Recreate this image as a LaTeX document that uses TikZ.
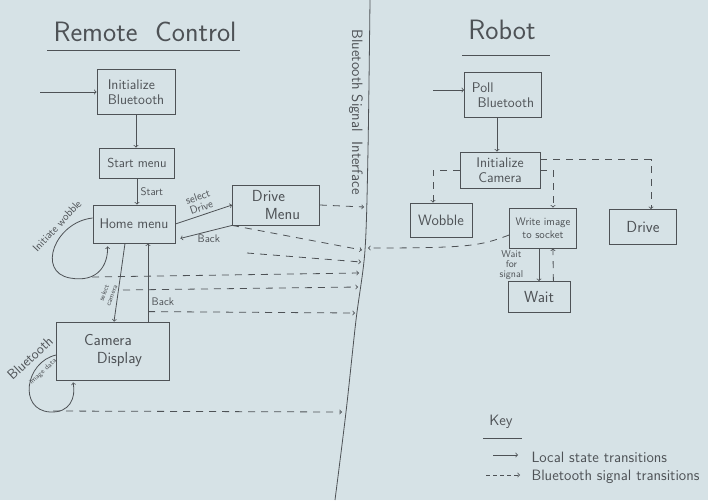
\documentclass[tikz,border=0pt]{standalone}
\usepackage{tikz}
\usetikzlibrary{calc,positioning}
\definecolor{paper}{RGB}{214,226,230}
\definecolor{ink}{RGB}{78,82,86}

\begin{document}
\begin{tikzpicture}[x=1pt,y=-1pt,
  every node/.style={text=ink,font=\sffamily\fontsize{11}{12}\selectfont},
  state/.style={draw=ink,line width=0.8pt,inner sep=2pt,align=center,font=\sffamily\fontsize{14}{15}\selectfont},
  local/.style={draw=ink,line width=0.8pt,->},
  signal/.style={draw=ink,line width=0.8pt,->,dash pattern=on 7pt off 6pt},
  lbl/.style={font=\sffamily\fontsize{11}{11}\selectfont}]
  %paper
  \fill[paper] (0,0) rectangle (708,500);
  \useasboundingbox (0,0) rectangle (708,500);

  %titles
  \node[font=\sffamily\fontsize{28}{30}\selectfont] (rctitle) at (145,32) {Remote\ \ Control};
  \draw[ink,line width=0.8pt] (47,50) -- (240,50);
  \node[font=\sffamily\fontsize{28}{30}\selectfont] (rbtitle) at (502,30) {Robot};
  \draw[ink,line width=0.8pt] (462,55) -- (550,55);

  %interface
  \draw[ink,line width=0.8pt] plot[smooth] coordinates {(370,0) (368,150) (365,250) (356,320) (346,412) (335,500)};
  \node[rotate=-90,font=\sffamily\fontsize{15}{17}\selectfont] (bsi) at (356,112) {Bluetooth Signal\ \ Interface};

  %remote control states
  \node[state,align=left,minimum width=78,minimum height=45] (initbt) at (136,92) {Initialize\\Bluetooth};
  \node[state,minimum width=75,minimum height=30,font=\sffamily\fontsize{13}{14}\selectfont] (startm) at (137,163) {Start menu};
  \node[state,minimum width=82,minimum height=38] (homem) at (134,224) {Home menu};
  \node[state,align=left,minimum width=87,minimum height=40,font=\sffamily\fontsize{16}{18}\selectfont] (drivem) at (276,205) {Drive\\\hspace{0.8em}Menu};
  \node[state,align=left,minimum width=113,minimum height=58,font=\sffamily\fontsize{16}{18}\selectfont] (camdisp) at (113,351) {Camera\\\hspace{0.8em}Display\hspace{0.8em}};

  %robot states
  \node[state,align=left,minimum width=77,minimum height=45] (pollbt) at (503,95) {Poll\\\hspace{0.4em}Bluetooth};
  \node[state,minimum width=80,minimum height=36] (initcam) at (500,170) {Initialize\\Camera};
  \node[state,minimum width=62,minimum height=34,font=\sffamily\fontsize{15}{16}\selectfont] (wobble) at (441,220) {Wobble};
  \node[state,minimum width=67,minimum height=40,font=\sffamily\fontsize{11}{13}\selectfont] (writeimg) at (543,228) {Write image\\to socket};
  \node[state,minimum width=67,minimum height=35,font=\sffamily\fontsize{16}{17}\selectfont] (drive) at (643,227) {Drive};
  \node[state,minimum width=62,minimum height=31,font=\sffamily\fontsize{16}{17}\selectfont] (wait) at (539,297) {Wait};

  %remote control transitions
  \coordinate (rcin) at (40,92);
  \draw[local] (rcin) -- (initbt.west);
  \draw[local] (initbt.south) -- (initbt.south |- startm.north);
  \draw[local] (startm.south) -- (startm.south |- homem.north) node[midway,right,lbl] {Start};
  \draw[local] (homem.east) -- (drivem.west) node[midway,above,sloped,lbl,align=center] {select\\Drive};
  \draw[local] (drivem.south west) -- ($(homem.south east)+(5,-5)$) node[pos=0.45,below,lbl] (back1) {Back};
  \draw[local] ($(homem.south)+(-9,0)$) -- ($(camdisp.north)+(1,0)$) node[pos=0.65,xshift=-10pt,rotate=70,align=center,font=\sffamily\fontsize{7}{8}\selectfont] {select\\camera};
  \coordinate (cb) at ($(camdisp.north)+(35,0)$);
  \draw[local] (cb) -- (cb |- homem.south) node[pos=0.25,right,lbl] {Back};
  %loops
  \draw[local] ($(homem.west)+(0,-6)$) .. controls (55,222) and (36,272) .. (70,278) .. controls (98,283) and (108,265) .. ($(homem.south west)+(15,3)$);
  \node[lbl,rotate=47] (wobtxt) at (57,226) {Initiate wobble};
  \draw[local] ($(camdisp.west)+(0,4)$) .. controls (25,362) and (18,410) .. (50,412) .. controls (70,413) and (76,398) .. ($(camdisp.south west)+(17,2)$);
  \node[rotate=43,font=\sffamily\fontsize{14}{14}\selectfont] (bttxt) at (30,358) {Bluetooth};
  \node[rotate=43,font=\sffamily\fontsize{7}{8}\selectfont] (imgtxt) at (43,372) {image data};

  %signals to the robot
  \coordinate (i1) at (364,207);
  \coordinate (i2) at (362,250);
  \coordinate (i3) at (361,262);
  \coordinate (i4) at (359,273);
  \coordinate (i5) at (358,287);
  \coordinate (i6) at (355,313);
  \coordinate (i7) at (342,412);
  \coordinate (ir) at (368,248);
  \coordinate (bk) at (247,253);
  \coordinate (wb) at (92,277);
  \coordinate (sc) at (123,290);
  \coordinate (cl) at (53,411);
  \draw[signal] (drivem.east) -- (i1);
  \draw[signal] (drivem.south west) -- (i2);
  \draw[signal] (bk) -- (i3);
  \draw[signal] (wb) -- (i4);
  \draw[signal] (sc) -- (i5);
  \draw[signal] ($(cb)+(0,-10)$) -- (i6);
  \draw[signal] (cl) -- (i7);

  %robot transitions
  \coordinate (rbin) at (433,90);
  \draw[local] (rbin) -- (rbin -| pollbt.west);
  \coordinate (pb) at ($(pollbt.south)+(-6,0)$);
  \draw[local] (pb) -- (pb |- initcam.north);
  \draw[signal] (initcam.west) -| ($(wobble.north)+(-8,0)$);
  \draw[signal] (initcam.east) -| ($(writeimg.north)+(10,0)$);
  \draw[signal] ($(initcam.north east)+(0,8)$) -| ($(drive.north)+(8,0)$);
  \draw[local] (writeimg.south -| wait.north) -- (wait.north) node[midway,left=12pt,lbl,align=center,font=\sffamily\fontsize{10}{10}\selectfont] {Wait\\for\\signal};
  \draw[signal] ($(wait.north east)+(-17,0)$) -- ($(writeimg.south east)+(-24,0)$);
  \draw[signal] ($(writeimg.west)+(0,7)$) .. controls (480,246) and (470,248) .. (ir);

  %key
  \node[font=\sffamily\fontsize{15}{16}\selectfont] (keyt) at (501,422) {Key};
  \draw[ink,line width=0.8pt] (483,438) -- (522,438);
  \node[anchor=west,font=\sffamily\fontsize{15}{16}\selectfont] (k1) at (528,457) {Local state transitions};
  \node[anchor=west,font=\sffamily\fontsize{15}{16}\selectfont] (k2) at (528,477) {Bluetooth signal transitions};
  \coordinate (k1a) at (493,455);
  \coordinate (k2a) at (486,475);
  \draw[local] (k1a) -- ($(k1.west)+(-10,-2)$);
  \draw[signal,dash pattern=on 4pt off 3pt] (k2a) -- ($(k2.west)+(-8,-2)$);
\end{tikzpicture}
\end{document}
